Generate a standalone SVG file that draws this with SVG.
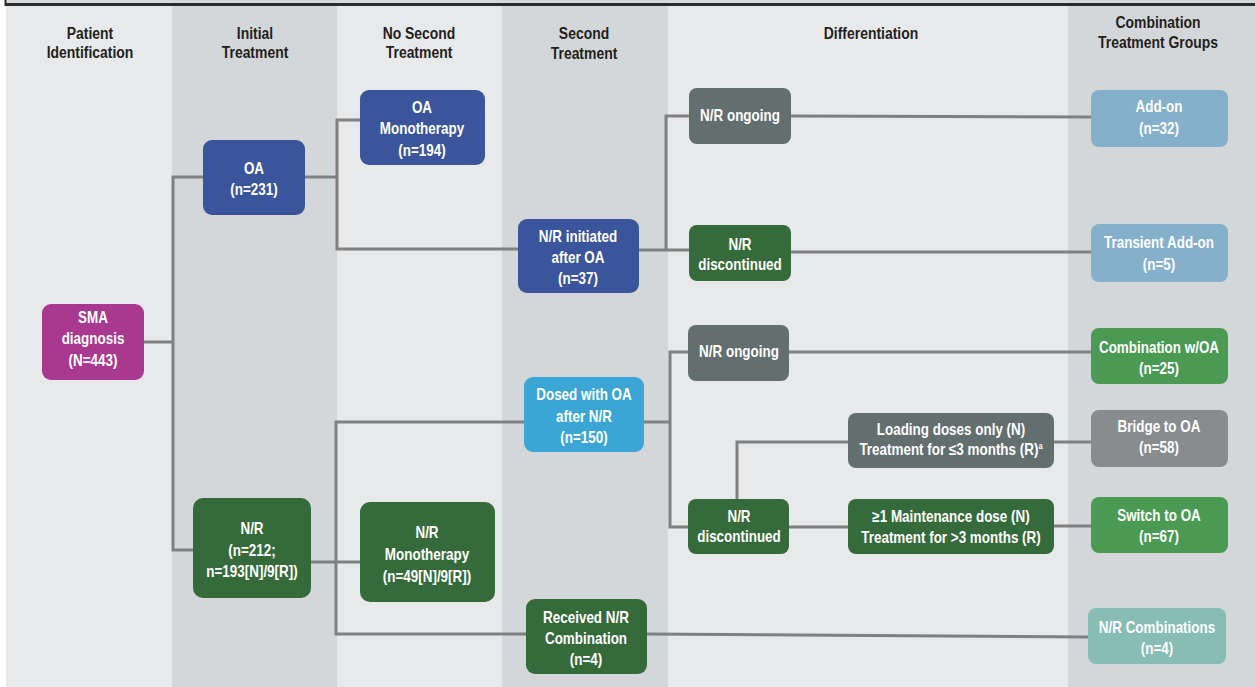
<svg xmlns="http://www.w3.org/2000/svg" width="1255" height="687" viewBox="0 0 1255 687">
<style>
text{font-family:"Liberation Sans",Arial,sans-serif;font-weight:bold;font-size:16px;text-anchor:middle}
.hd{fill:#231f20;font-size:17px}
.nt{fill:#ffffff}
.bl{fill:#e8e9eb}
.bd{fill:#d4d7d9}
.c{fill:none;stroke:#808080;stroke-width:3}
.blue{fill:#3a559b}
.mag{fill:#a8398f}
.dg{fill:#356b3b}
.gr{fill:#636e6e}
.lb{fill:#85b0cc}
.cy{fill:#3ba6d6}
.mg{fill:#4a9a54}
.lg{fill:#898c8e}
.tl{fill:#87bdb4}
</style>
<rect x="0" y="0" width="1255" height="687" fill="#ffffff"/>
<g id="bands">
<rect class="bl" x="6" y="6" width="166" height="681"/>
<rect class="bd" x="172" y="6" width="165" height="681"/>
<rect class="bl" x="337" y="6" width="165" height="681"/>
<rect class="bd" x="502" y="6" width="166" height="681"/>
<rect class="bl" x="668" y="6" width="400" height="681"/>
<rect class="bd" x="1068" y="6" width="187" height="681"/>
<rect x="6" y="0" width="1249" height="3" fill="#d8d9db"/>
<line x1="5" y1="4.5" x2="1255" y2="4.5" stroke="#2b2b2b" stroke-width="3"/>
<line x1="5.5" y1="0" x2="5.5" y2="6" stroke="#2b2b2b" stroke-width="2"/>
</g>
<g id="headers">
<text class="hd" transform="translate(90 39) scale(.82 1)">Patient</text>
<text class="hd" transform="translate(90 58) scale(.82 1)">Identification</text>
<text class="hd" transform="translate(255 39) scale(.82 1)">Initial</text>
<text class="hd" transform="translate(255 58) scale(.82 1)">Treatment</text>
<text class="hd" transform="translate(419 39) scale(.82 1)">No Second</text>
<text class="hd" transform="translate(419 58) scale(.82 1)">Treatment</text>
<text class="hd" transform="translate(584 39) scale(.82 1)">Second</text>
<text class="hd" transform="translate(584 59) scale(.82 1)">Treatment</text>
<text class="hd" transform="translate(871 39) scale(.82 1)">Differentiation</text>
<text class="hd" transform="translate(1158 28) scale(.82 1)">Combination</text>
<text class="hd" transform="translate(1158 48) scale(.82 1)">Treatment Groups</text>
</g>
<g id="connectors">
<polyline class="c" points="144,342 173,342"/>
<polyline class="c" points="203,177 173,177 173,550 193,550"/>
<polyline class="c" points="305,177 337,177"/>
<polyline class="c" points="360,120 337,120 337,249 518,249"/>
<polyline class="c" points="639,250 689,250"/>
<polyline class="c" points="689,116 666,116 666,250"/>
<polyline class="c" points="791,116 1091,117"/>
<polyline class="c" points="791,252 1091,252"/>
<polyline class="c" points="311,562 360,562"/>
<polyline class="c" points="524,422 336,422 336,634 526,634"/>
<polyline class="c" points="644,422 670,422"/>
<polyline class="c" points="688,352 670,352 670,527 688,527"/>
<polyline class="c" points="789,352 1091,352"/>
<polyline class="c" points="789,527 848,527"/>
<polyline class="c" points="737,499 737,442 848,442"/>
<polyline class="c" points="1054,442 1091,442"/>
<polyline class="c" points="1054,526 1091,526"/>
<polyline class="c" points="647,634 1088,637"/>
</g>
<g id="sma">
<rect class="mag" x="42" y="304" width="102" height="76" rx="9"/>
<text class="nt" transform="translate(93 323) scale(.84 1)">SMA</text>
<text class="nt" transform="translate(93 344) scale(.84 1)">diagnosis</text>
<text class="nt" transform="translate(93 366) scale(.84 1)">(N=443)</text>
</g>
<g id="oa">
<rect class="blue" x="203" y="140" width="102" height="75" rx="9"/>
<text class="nt" transform="translate(254 174) scale(.84 1)">OA</text>
<text class="nt" transform="translate(254 195) scale(.84 1)">(n=231)</text>
</g>
<g id="nr">
<rect class="dg" x="193" y="498" width="118" height="100" rx="10"/>
<text class="nt" transform="translate(252 534) scale(.84 1)">N/R</text>
<text class="nt" transform="translate(252 556) scale(.84 1)">(n=212;</text>
<text class="nt" transform="translate(252 577) scale(.84 1)">n=193[N]/9[R])</text>
</g>
<g id="oa-mono">
<rect class="blue" x="360" y="90" width="125" height="75" rx="9"/>
<text class="nt" transform="translate(422 113) scale(.84 1)">OA</text>
<text class="nt" transform="translate(422 134) scale(.84 1)">Monotherapy</text>
<text class="nt" transform="translate(422 156) scale(.84 1)">(n=194)</text>
</g>
<g id="nr-mono">
<rect class="dg" x="360" y="502" width="135" height="100" rx="10"/>
<text class="nt" transform="translate(427 538) scale(.84 1)">N/R</text>
<text class="nt" transform="translate(427 560) scale(.84 1)">Monotherapy</text>
<text class="nt" transform="translate(427 582) scale(.84 1)">(n=49[N]/9[R])</text>
</g>
<g id="nr-initiated">
<rect class="blue" x="518" y="219" width="121" height="74" rx="9"/>
<text class="nt" transform="translate(578 242) scale(.84 1)">N/R initiated</text>
<text class="nt" transform="translate(578 263) scale(.84 1)">after OA</text>
<text class="nt" transform="translate(578 284) scale(.84 1)">(n=37)</text>
</g>
<g id="dosed-oa">
<rect class="cy" x="524" y="377" width="120" height="75" rx="9"/>
<text class="nt" transform="translate(584 400) scale(.84 1)">Dosed with OA</text>
<text class="nt" transform="translate(584 422) scale(.84 1)">after N/R</text>
<text class="nt" transform="translate(584 443) scale(.84 1)">(n=150)</text>
</g>
<g id="received-nr-comb">
<rect class="dg" x="526" y="599" width="121" height="75" rx="9"/>
<text class="nt" transform="translate(586 623) scale(.84 1)">Received N/R</text>
<text class="nt" transform="translate(586 644) scale(.84 1)">Combination</text>
<text class="nt" transform="translate(586 665) scale(.84 1)">(n=4)</text>
</g>
<g id="nr-ongoing-1">
<rect class="gr" x="689" y="88" width="102" height="56" rx="8"/>
<text class="nt" transform="translate(740 121) scale(.84 1)">N/R ongoing</text>
</g>
<g id="nr-disc-1">
<rect class="dg" x="689" y="225" width="102" height="56" rx="8"/>
<text class="nt" transform="translate(740 250) scale(.84 1)">N/R</text>
<text class="nt" transform="translate(740 270) scale(.84 1)">discontinued</text>
</g>
<g id="nr-ongoing-2">
<rect class="gr" x="688" y="325" width="101" height="56" rx="8"/>
<text class="nt" transform="translate(739 357) scale(.84 1)">N/R ongoing</text>
</g>
<g id="nr-disc-2">
<rect class="dg" x="688" y="499" width="101" height="55" rx="8"/>
<text class="nt" transform="translate(739 522) scale(.84 1)">N/R</text>
<text class="nt" transform="translate(739 542) scale(.84 1)">discontinued</text>
</g>
<g id="loading">
<rect class="gr" x="848" y="413" width="206" height="55" rx="8"/>
<text class="nt" transform="translate(951 435) scale(.84 1)">Loading doses only (N)</text>
<text class="nt" transform="translate(951 455) scale(.84 1)">Treatment for ≤3 months (R)<tspan font-size="9" dy="-6">a</tspan></text>
</g>
<g id="maintenance">
<rect class="dg" x="848" y="499" width="206" height="55" rx="8"/>
<text class="nt" transform="translate(951 522) scale(.84 1)">≥1 Maintenance dose (N)</text>
<text class="nt" transform="translate(951 543) scale(.84 1)">Treatment for &gt;3 months (R)</text>
</g>
<g id="add-on">
<rect class="lb" x="1091" y="90" width="137" height="57" rx="8"/>
<text class="nt" transform="translate(1159 112) scale(.84 1)">Add-on</text>
<text class="nt" transform="translate(1159 134) scale(.84 1)">(n=32)</text>
</g>
<g id="transient">
<rect class="lb" x="1091" y="224" width="137" height="58" rx="8"/>
<text class="nt" transform="translate(1159 248) scale(.84 1)">Transient Add-on</text>
<text class="nt" transform="translate(1159 270) scale(.84 1)">(n=5)</text>
</g>
<g id="comb-oa">
<rect class="mg" x="1091" y="328" width="137" height="56" rx="8"/>
<text class="nt" transform="translate(1159 353) scale(.84 1)">Combination w/OA</text>
<text class="nt" transform="translate(1159 374) scale(.84 1)">(n=25)</text>
</g>
<g id="bridge">
<rect class="lg" x="1091" y="410" width="137" height="57" rx="8"/>
<text class="nt" transform="translate(1159 432) scale(.84 1)">Bridge to OA</text>
<text class="nt" transform="translate(1159 453) scale(.84 1)">(n=58)</text>
</g>
<g id="switch">
<rect class="mg" x="1091" y="497" width="137" height="56" rx="8"/>
<text class="nt" transform="translate(1159 521) scale(.84 1)">Switch to OA</text>
<text class="nt" transform="translate(1159 542) scale(.84 1)">(n=67)</text>
</g>
<g id="nr-combs">
<rect class="tl" x="1088" y="608" width="138" height="56" rx="8"/>
<text class="nt" transform="translate(1157 633) scale(.84 1)">N/R Combinations</text>
<text class="nt" transform="translate(1157 654) scale(.84 1)">(n=4)</text>
</g>
</svg>
